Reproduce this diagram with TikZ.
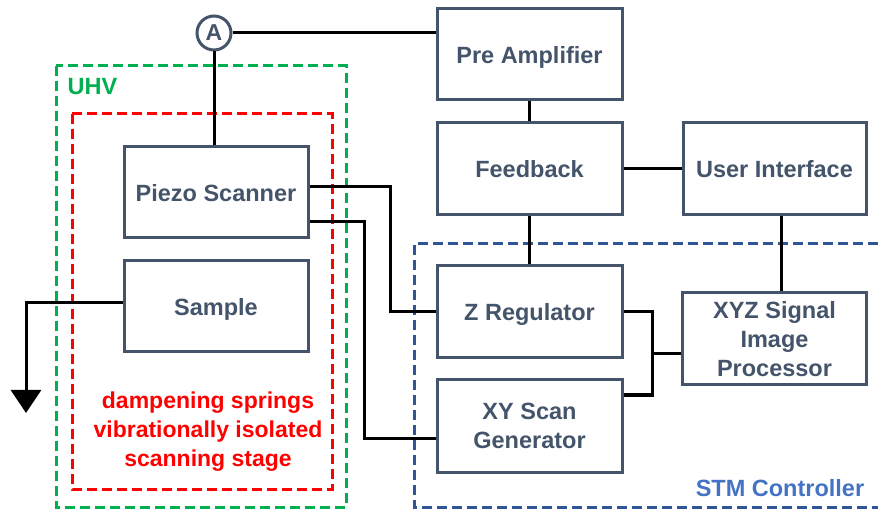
\documentclass[tikz,border=0pt]{standalone}
\usepackage{fontspec}
\setmainfont{Liberation Sans}
\usetikzlibrary{arrows.meta,calc}
\definecolor{slate}{HTML}{44546A}
\definecolor{uhvgreen}{HTML}{00B050}
\definecolor{stmblue}{HTML}{2F5597}
\definecolor{stmtext}{HTML}{4472C4}
\tikzset{
  block/.style={draw=slate, line width=3pt, fill=white, text=slate, text depth=0pt,
    font=\fontsize{23.5}{29}\selectfont\bfseries, align=center, inner sep=2pt},
  wire/.style={line width=3pt, draw=black},
  zone/.style={line width=3pt, dash pattern=on 10pt off 5pt},
  note/.style={font=\fontsize{23}{29}\selectfont\bfseries, align=center}
}
\begin{document}
\begin{tikzpicture}[x=1pt,y=-1pt]
\useasboundingbox (0,0) rectangle (878,510);
% enclosures
\draw[zone, draw=uhvgreen] (56,66) rectangle (346,507);
\draw[zone, draw=red] (72,114) rectangle (332,489);
\draw[zone, draw=stmblue] (878,244) -- (414,244) -- (414,507) -- (878,507);
\node[note, text=uhvgreen, font=\fontsize{23.5}{28}\selectfont\bfseries] (uhv) at (92.5,87) {UHV};
\node[note, text=stmtext, font=\fontsize{23.5}{28}\selectfont\bfseries] (stm) at (780,488) {STM Controller};
\node[note, text=red] (springs) at (208,432) {dampening springs\\vibrationally isolated\\scanning stage};
% blocks
\node[block, minimum width=185pt, minimum height=91pt] (pre) at (529.5,54.5) {Pre Amplifier};
\node[block, minimum width=185pt, minimum height=92pt] (fb) at (529.5,169) {Feedback};
\node[block, minimum width=183pt, minimum height=92pt] (ui) at (774.5,169) {User Interface};
\node[block, minimum width=184pt, minimum height=91pt] (piezo) at (216,192.5) {Piezo Scanner};
\node[block, minimum width=184pt, minimum height=91pt] (sample) at (216,306.5) {Sample};
\node[block, minimum width=185pt, minimum height=92pt] (zreg) at (529.5,312) {Z Regulator};
\node[block, minimum width=185pt, minimum height=92pt] (xy) at (529.5,426) {XY Scan\\Generator};
\node[block, minimum width=184pt, minimum height=92pt] (xyz) at (774.5,339) {XYZ Signal\\Image\\Processor};
\node[draw=slate, line width=3pt, circle, minimum size=34pt, inner sep=0pt, fill=white,
  text=slate, font=\fontsize{23}{26}\selectfont\bfseries] (amp) at (214,33) {A};
% connections
\draw[wire] (amp) -- (pre.west |- amp);
\draw[wire] (amp) -- (piezo.north -| amp);
\draw[wire] (pre) -- (fb);
\draw[wire] (fb) -- (ui);
\draw[wire] (fb) -- (zreg);
\draw[wire] ([xshift=6.5pt]ui.south) -- ([xshift=6.5pt]xyz.north);
\draw[wire] ([yshift=5.5pt]piezo.east) -| (390,312) -- (zreg.west);
\draw[wire] ([yshift=-29.5pt]piezo.east) -| (364,438) -- ([yshift=-12pt]xy.west);
\draw[wire] (zreg.east) -| (652,395) -- ([yshift=31pt]xy.east);
\coordinate (jn) at (652,354);
\draw[wire] (jn) -- (jn -| xyz.west);
\coordinate (gnd) at (26,413);
\draw[wire, -{Triangle[length=23pt,width=30pt]}] ([yshift=3.5pt]sample.west) -| (gnd);
\end{tikzpicture}
\end{document}
